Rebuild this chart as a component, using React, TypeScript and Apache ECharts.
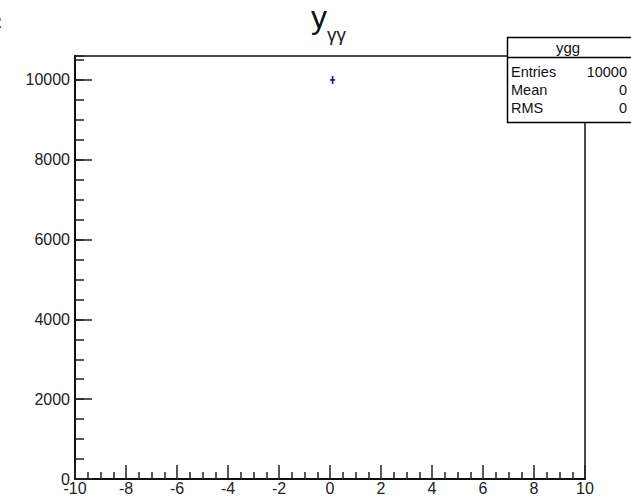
import React, { useEffect, useRef } from "react";
import * as echarts from "echarts";

// Histogram "ygg": one filled bin (bin width 0.2)
const binCenters = [0.1];
const binCounts = [10000];
const binErrors = [100];
const binWidth = 0.2;

const xMin = -10;
const xMax = 10;
const yMin = 0;
const yMax = 10600;

const statsLabels = ["Entries", "Mean", "RMS"];
const statsValues = ["10000", "0", "0"];
const histName = "ygg";

const FONT = "Liberation Sans, Arial, Helvetica, sans-serif";

export default function App() {
  const ref = useRef<HTMLDivElement>(null);

  useEffect(() => {
    document.body.style.margin = "0";
    if (!ref.current) return;
    const chart = echarts.init(ref.current, undefined, { renderer: "svg" });

    const data = binCenters.map((c, i) => [c, binCounts[i], binErrors[i]]);

    const statsGraphics: any[] = [
      {
        type: "rect",
        z: 100,
        shape: { x: 507.5, y: 37.5, width: 140, height: 85 },
        style: { fill: "#fff", stroke: "#000", lineWidth: 1.5 },
      },
      {
        type: "line",
        z: 101,
        shape: { x1: 507.5, y1: 57.5, x2: 640, y2: 57.5 },
        style: { stroke: "#000", lineWidth: 1.5 },
      },
      {
        type: "text",
        z: 101,
        x: 568,
        y: 47.5,
        style: {
          text: histName,
          fontFamily: FONT,
          fontSize: 15,
          fill: "#111",
          align: "center",
          verticalAlign: "middle",
        },
      },
    ];
    statsLabels.forEach((lab, i) => {
      statsGraphics.push({
        type: "text",
        z: 101,
        x: 511,
        y: 72 + i * 18,
        style: {
          text: lab,
          fontFamily: FONT,
          fontSize: 14.5,
          fill: "#111",
          align: "left",
          verticalAlign: "middle",
        },
      });
      statsGraphics.push({
        type: "text",
        z: 101,
        x: 627,
        y: 72 + i * 18,
        style: {
          text: statsValues[i],
          fontFamily: FONT,
          fontSize: 14.5,
          fill: "#111",
          align: "right",
          verticalAlign: "middle",
        },
      });
    });

    const tickStyle = { color: "#222", width: 1.5 };

    chart.setOption({
      animation: false,
      backgroundColor: "#fff",
      grid: {
        left: 75,
        right: 46,
        top: 56,
        bottom: 18,
        show: true,
        borderColor: "#111",
        borderWidth: 1.5,
        backgroundColor: "transparent",
      },
      xAxis: {
        type: "value",
        min: xMin,
        max: xMax,
        interval: 2,
        position: "bottom",
        axisLine: { show: true, onZero: false, lineStyle: { color: "#111", width: 2 } },
        axisTick: { show: true, inside: true, length: 14, lineStyle: tickStyle },
        minorTick: { show: true, splitNumber: 4, length: 7, lineStyle: tickStyle },
        splitLine: { show: false },
        minorSplitLine: { show: false },
        axisLabel: {
          show: true,
          margin: 1,
          fontFamily: FONT,
          fontSize: 16,
          color: "#222",
          formatter: (v: number) => String(v),
        },
      },
      yAxis: [
        {
          type: "value",
          min: yMin,
          max: yMax,
          interval: 2000,
          position: "left",
          axisLine: { show: true, onZero: false, lineStyle: { color: "#111", width: 2 } },
          axisTick: { show: true, inside: true, length: 17, lineStyle: tickStyle },
          splitLine: { show: false },
          axisLabel: {
            show: true,
            margin: 5,
            fontFamily: FONT,
            fontSize: 16,
            color: "#222",
            showMaxLabel: false,
            formatter: (v: number) => String(v),
          },
        },
        {
          type: "value",
          min: yMin,
          max: yMax,
          interval: 500,
          position: "left",
          axisLine: { show: false, onZero: false },
          axisTick: { show: true, inside: true, length: 9, lineStyle: tickStyle },
          splitLine: { show: false },
          axisLabel: { show: false },
        },
      ],
      series: [
        {
          type: "custom",
          xAxisIndex: 0,
          yAxisIndex: 0,
          data,
          renderItem: (params: any, api: any) => {
            const x = api.value(0);
            const y = api.value(1);
            const e = api.value(2);
            const left = api.coord([x - binWidth / 2, y]);
            const right = api.coord([x + binWidth / 2, y]);
            const top = api.coord([x, y + e]);
            const bottom = api.coord([x, y - e]);
            const style = { stroke: "#000099", lineWidth: 1.5 };
            return {
              type: "group",
              children: [
                { type: "line", shape: { x1: left[0], y1: left[1], x2: right[0], y2: right[1] }, style },
                { type: "line", shape: { x1: top[0], y1: top[1], x2: bottom[0], y2: bottom[1] }, style },
              ],
            };
          },
        },
      ],
      graphic: [
        {
          type: "text",
          x: 311,
          y: 33,
          style: {
            text: "y",
            fontFamily: FONT,
            fontSize: 32,
            fill: "#111",
            align: "left",
            verticalAlign: "bottom",
          },
        },
        {
          type: "text",
          x: 327,
          y: 44,
          style: {
            text: "γγ",
            fontFamily: FONT,
            fontSize: 19,
            fill: "#222",
            align: "left",
            verticalAlign: "bottom",
          },
        },
        {
          type: "text",
          x: -8,
          y: 14,
          style: {
            text: "2",
            fontFamily: FONT,
            fontSize: 17,
            fontWeight: "bold",
            fill: "#990000",
            align: "left",
            verticalAlign: "top",
          },
        },
        ...statsGraphics,
      ],
    });

    return () => chart.dispose();
  }, []);

  return <div ref={ref} style={{ width: 631, height: 497 }} />;
}
